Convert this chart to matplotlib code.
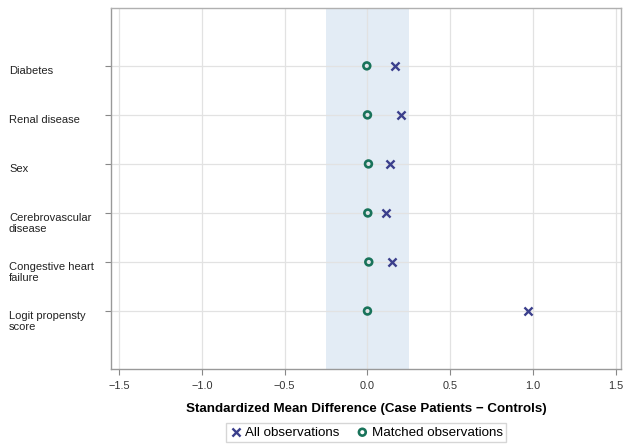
import matplotlib
matplotlib.use("Agg")
import matplotlib.pyplot as plt
import matplotlib.transforms as mtransforms

plt.rcParams['font.family'] = ['Liberation Sans', 'DejaVu Sans']

variables = ["Diabetes", "Renal disease", "Sex", "Cerebrovascular\ndisease",
             "Congestive heart\nfailure", "Logit propensty\nscore"]
all_obs = [0.165, 0.20, 0.137, 0.109, 0.151, 0.972]
matched_obs = [-0.004, 0.0, 0.006, 0.002, 0.008, 0.0]
xticks = [-1.5, -1.0, -0.5, 0.0, 0.5, 1.0, 1.5]
band = (-0.25, 0.25)

fig = plt.figure(figsize=(6.24, 4.45), dpi=100)
ax = fig.add_axes([0.178, 0.171, 0.817, 0.811])

ypos = list(range(len(variables)))
ax.axvspan(band[0], band[1], color='#e3ecf5', zorder=0, lw=0)
ax.grid(True, color='#e2e2e2', lw=0.9, zorder=0.5)
ax.set_axisbelow(True)

ax.scatter(all_obs, ypos, marker='x', s=34, color='#3b3f8c', linewidths=1.7,
           zorder=3, label='All observations')
ax.scatter(matched_obs, ypos, marker='o', s=24, facecolors='none',
           edgecolors='#19735a', linewidths=1.9, zorder=3,
           label='Matched observations')

ax.set_xlim(-1.548, 1.53)
ax.set_ylim(len(variables) - 1 + 1.18, -1.18)
ax.set_xticks(xticks)
ax.set_xticklabels([f"{v:.1f}".replace('-', '\u2212') for v in xticks], fontsize=7.8, color='#333333')
ax.set_yticks(ypos)
labels = ax.set_yticklabels(variables, fontsize=8, color='#222222')
offset = mtransforms.ScaledTranslation(0, 4.5/100, fig.dpi_scale_trans)
for t in labels:
    t.set_horizontalalignment('left')
    t.set_verticalalignment('top')
    t.set_multialignment('left')
    t.set_linespacing(1.1)
    t.set_transform(t.get_transform() + offset)
ax.tick_params(axis='y', length=4, pad=69.5, color='#888888')
ax.tick_params(axis='x', length=4, pad=5, color='#888888')

for s in ax.spines.values():
    s.set_color('#b0b0b0')
    s.set_linewidth(1.0)
ax.spines['left'].set_color('#999999')
ax.spines['bottom'].set_color('#999999')

ax.set_xlabel('Standardized Mean Difference (Case Patients \u2212 Controls)',
              fontsize=9.6, fontweight='bold', labelpad=8)

leg = ax.legend(loc='upper center', bbox_to_anchor=(0.5, -0.150), ncol=2,
                fontsize=9.6, frameon=True, fancybox=False, edgecolor='#cccccc',
                handletextpad=0.2, columnspacing=1.2, borderpad=0.25,
                handlelength=1.0, borderaxespad=0)

fig.savefig('out.png', dpi=100)
